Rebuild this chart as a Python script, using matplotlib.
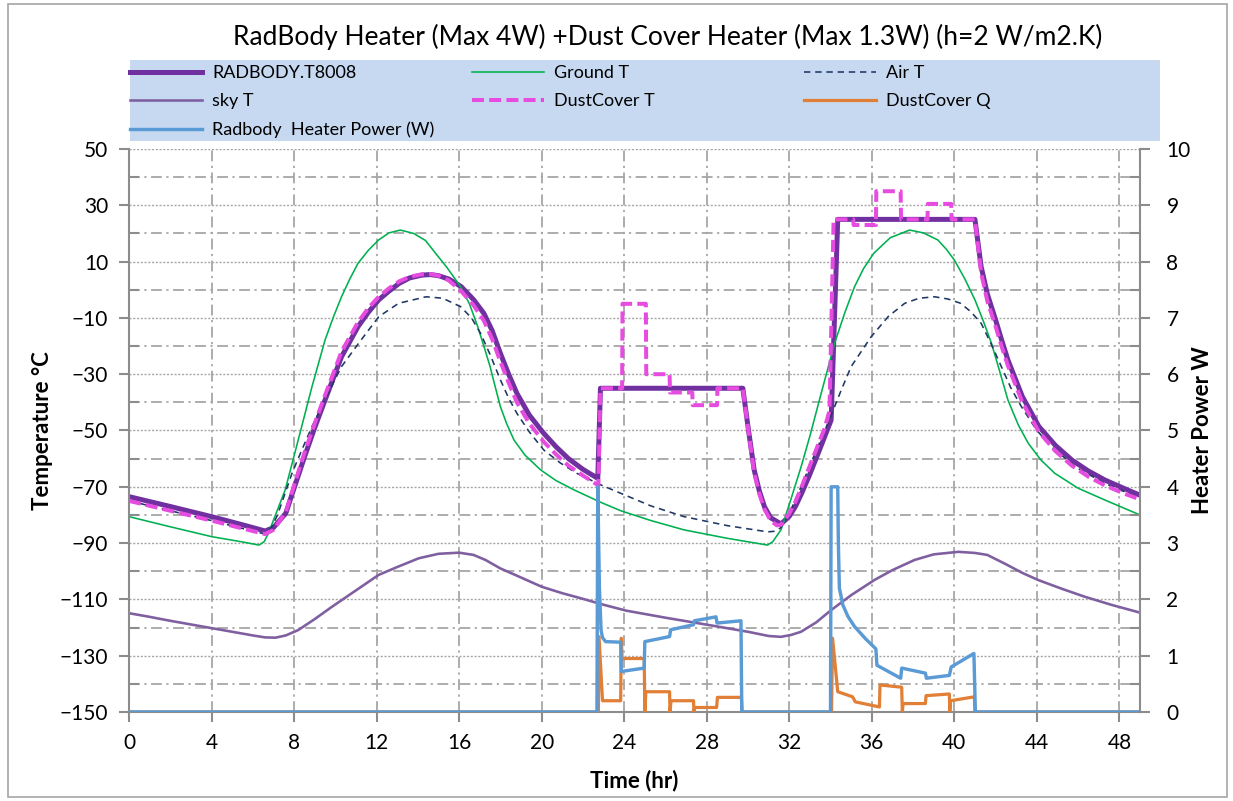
import matplotlib
matplotlib.use("Agg")
import matplotlib.pyplot as plt
from matplotlib.patches import Rectangle
import numpy as np

plt.rcParams['font.family'] = ['Lato', 'DejaVu Sans']

# ---- data ----
t_radbody = [0, 2, 4, 5.5, 6.6, 7.0, 7.6, 8.0, 8.5, 9.0, 9.5, 10.3, 11.1, 11.6, 12.1, 12.6, 13.1,
             13.6, 14.2, 14.6, 15.0, 15.5, 16.1, 16.7, 17.2, 17.6, 18.0, 18.4, 18.8, 19.4, 20.1,
             20.7, 21.3, 22.0, 22.72, 22.85, 29.75, 30.0, 30.3, 30.55, 30.8, 31.1, 31.6, 32.0,
             32.3, 32.6, 33.0, 33.4, 33.7, 34.03, 34.35, 41.0, 41.3, 41.6, 42.0, 42.3, 42.6,
             43.3, 44.1, 44.9, 45.7, 46.5, 47.3, 48.2, 49]
T_radbody = [-73.5, -77, -80.6, -83.5, -85.7, -84.5, -79.4, -70.5, -59.5, -49, -39.2, -23.8,
             -13.1, -8, -3.6, -0.5, 2.3, 4.2, 5.2, 5.4, 5.0, 3.8, 1.1, -3.5, -8.4, -14.5, -22.6,
             -30, -36.8, -44.5, -51, -55.8, -60, -63.8, -67, -35, -35, -48.6, -64, -71.5, -77.1,
             -81, -83.2, -80.5, -77, -72.3, -65.5, -58.1, -52.5, -46.3, 25, 25, 8.2, -1.5,
             -10.7, -18, -25, -38, -48.6, -55.3, -60.5, -64.4, -67.6, -70.5, -73]

t_dust = [0, 2, 4, 5.5, 6.6, 7.0, 7.6, 8.0, 8.5, 9.0, 9.5, 10.3, 11.1, 11.6, 12.1, 12.6, 13.1,
          13.6, 14.2, 14.6, 15.0, 15.5, 16.1, 16.7, 17.2, 17.6, 18.0, 18.4, 18.8, 19.4, 20.1,
          20.7, 21.3, 22.0, 22.75, 22.85, 23.9, 23.92, 25.05, 25.07, 26.2, 26.22, 27.3, 27.32,
          28.5, 28.52, 29.75, 30.0, 30.3, 30.55, 30.8, 31.1, 31.4, 31.6, 32.0, 32.3, 32.6,
          33.0, 33.4, 33.7, 33.95, 34.15, 35.1, 35.12, 36.2, 36.22, 37.4, 37.42, 38.7, 38.72,
          39.85, 39.87, 41.0, 41.3, 41.6, 42.0, 42.3, 42.6, 43.3, 44.1, 44.9, 45.7, 46.5, 47.3,
          48.2, 49]
T_dust = [-75, -78.5, -82, -84.8, -86.8, -85.3, -79, -69.5, -58, -47.5, -37.5, -22, -11.5,
          -6.5, -2.5, 0.5, 3, 4.6, 5.5, 5.6, 5.0, 3.3, -0.5, -5.5, -11, -17.5, -25.5, -33, -40,
          -47.5, -54, -58.5, -62.5, -66, -69.5, -35, -35, -5, -5, -30, -30, -36.5, -36.5, -41,
          -41, -35, -35, -49, -65, -72.5, -78, -82, -83.7, -83.5, -79.5, -75.3, -70, -62.5,
          -55, -49.5, -43, 25, 25, 23, 23, 35, 35, 25, 25, 30.5, 30.5, 25, 25, 6, -4, -13,
          -20.3, -27, -40, -50.5, -57.3, -62.5, -66.4, -69.5, -72.3, -74.5]

t_ground = [0, 2, 4, 5.5, 6.3, 6.55, 6.76, 7.1, 7.57, 8.2, 8.87, 9.5, 9.9, 10.3, 10.7, 11.1,
            11.6, 12.1, 12.6, 13.15, 13.8, 14.37, 14.8, 15.4, 16.07, 16.5, 16.9, 17.2, 17.5,
            17.75, 18.0, 18.3, 18.66, 19.2, 19.95, 20.7, 21.57, 22.86, 23.83, 25.3, 26.9, 29.0,
            30.95, 31.2, 31.6, 32.1, 32.57, 33.0, 33.54, 34.2, 34.7, 35.16, 35.6, 36.1, 36.9,
            37.83, 38.5, 39.2, 39.6, 40.0, 40.5, 41.0, 41.4, 41.8, 42.2, 42.6, 43.1, 43.58,
            44.2, 44.87, 46.0, 47.3, 49]
T_ground = [-80.6, -84.2, -87.7, -89.6, -90.7, -89.5, -86.5, -80, -71.1, -53.4, -34.4, -17.9,
            -9.8, -2.5, 3.8, 9.4, 14, 17.7, 20.2, 21.2, 20, 17.5, 13.5, 8, 1.1, -5, -13.1, -20,
            -27.3, -34.5, -41.5, -47.5, -53.4, -58.8, -64, -67.8, -71.1, -75.5, -78.5, -82,
            -85.3, -88.3, -90.7, -89.5, -85.3, -74, -63, -52, -37, -19, -8, 1, 7.5, 13, 18.5,
            21.2, 20.2, 17.7, 14.5, 10.6, 4, -3.6, -11, -19, -29, -39.2, -48, -54.5, -60.5,
            -65.2, -70.5, -74.7, -80]

t_air = [0, 2, 4, 5.5, 6.6, 6.9, 7.2, 7.9, 8.4, 8.87, 9.6, 10.3, 11.13, 12.1, 13.07, 14.4,
         15.2, 16.07, 16.6, 17.04, 17.5, 18.0, 18.4, 18.8, 19.4, 20.1, 20.9, 21.7, 22.86, 23.83,
         25.3, 26.9, 29.0, 30.95, 31.3, 31.6, 32.0, 32.57, 33.2, 33.87, 34.5, 35.0, 35.97, 36.8,
         37.6, 38.3, 39.05, 39.7, 40.3, 40.8, 41.3, 41.8, 42.28, 42.75, 43.25, 44.0, 44.87,
         46.0, 47.3, 49]
T_air = [-75, -78.5, -82, -84.8, -86.8, -84.5, -80, -65.2, -56.5, -48.6, -37.5, -27.3, -19,
         -9.6, -4.8, -2.5, -3, -6, -10, -15.5, -23, -32, -38.5, -43.9, -50.5, -56.9, -61.5,
         -65.2, -69.3, -72.3, -76.8, -80.6, -83.8, -86, -85.8, -84.5, -79.5, -70, -59, -47.5,
         -36, -27.3, -16.7, -9.5, -4.8, -3, -2.5, -3.3, -4.8, -7.8, -11.9, -19.5, -27.3, -35,
         -41.5, -50, -56.9, -63.5, -68.8, -74.1]

t_sky = [0, 1, 2, 3, 4, 5, 6, 6.6, 7.1, 7.6, 8.2, 9.0, 9.84, 11.0, 12.1, 13.0, 14.04, 15.0, 16.0,
         16.7, 17.28, 18.0, 18.9, 20.0, 21.0, 21.9, 23.0, 24.1, 26.0, 28.1, 30.0, 31.0, 31.6,
         32.1, 32.57, 33.3, 34.03, 35.0, 36.13, 37.0, 38.07, 39.0, 40.2, 41.0, 41.6, 42.5,
         43.3, 44.06, 45.2, 46.3, 47.6, 49]
T_sky = [-114.9, -116.2, -117.6, -118.9, -120.2, -121.5, -122.8, -123.5, -123.6, -122.8, -120.9,
         -117, -112.6, -106.8, -101.3, -98.5, -95.4, -93.8, -93.4, -94.2, -96, -99, -101.9,
         -105.5, -107.8, -109.6, -111.9, -114, -116.5, -119.1, -121.5, -123, -123.3, -122.6,
         -121.5, -118.2, -113.8, -108.5, -103.1, -99.6, -96, -94, -93.1, -93.5, -94.2, -97.5,
         -100.6, -103.1, -106.2, -109, -111.9, -114.7]

t_dq = [0, 22.75, 22.78, 22.95, 23.83, 23.86, 23.9, 24.97, 25.0, 25.05, 26.2, 26.22, 26.27,
        27.36, 27.38, 27.42, 28.48, 28.52, 29.68, 29.72, 34.05, 34.1, 34.35, 35.07, 35.2,
        36.37, 36.4, 37.45, 37.48, 37.52, 38.6, 38.63, 39.76, 39.78, 39.82, 40.97, 41.0, 49]
Q_dust = [0, 0, 1.34, 0.2, 0.2, 1.31, 0.95, 0.95, 0, 0.36, 0.36, 0, 0.2, 0.2, 0, 0.08, 0.08,
          0.26, 0.26, 0, 0, 1.31, 0.36, 0.27, 0.18, 0.09, 0.48, 0.44, 0, 0.15, 0.15, 0.29, 0.32,
          0, 0.2, 0.27, 0, 0]

t_heat = [0, 22.68, 22.72, 22.8, 22.88, 22.95, 23.1, 23.83, 23.86, 24.97, 25.0, 26.2, 26.25,
          27.36, 27.4, 28.45, 28.5, 29.66, 29.7, 34.0, 34.03, 34.35, 34.38, 34.43, 34.6, 34.84,
          35.16, 35.7, 36.2, 36.25, 37.4, 37.45, 38.6, 38.65, 39.76, 39.85, 40.95, 41.02, 49]
P_heat = [0, 0, 4.0, 2.2, 1.45, 1.32, 1.25, 1.24, 0.72, 0.78, 1.25, 1.34, 1.46, 1.55, 1.62, 1.69,
          1.58, 1.62, 0, 0, 4.0, 4.0, 3.0, 2.2, 1.9, 1.7, 1.52, 1.3, 1.12, 0.83, 0.6, 0.78, 0.69,
          0.6, 0.65, 0.8, 1.04, 0, 0]

# ---- figure ----
W, H = 1233, 801
fig = plt.figure(figsize=(W / 100, H / 100), dpi=100)
ax = fig.add_axes([129 / W, 1 - 712 / H, (1140 - 129) / W, (712 - 149) / H])
ax2 = ax.twinx()

gridc = '#A6A6A6'
axc = '#8C8C8C'

ax.set_xlim(0, 49)
ax.set_ylim(-150, 50)
ax2.set_ylim(0, 10)

ax.set_xticks(np.arange(0, 49, 4))
ax.set_yticks(np.arange(-150, 51, 20))
ax.set_yticks(np.arange(-140, 50, 20), minor=True)
ax2.set_yticks(np.arange(0, 11, 1))
ax2.set_yticks(np.arange(0.5, 10, 1), minor=True)

ax.grid(axis='x', which='major', color=gridc, lw=1.3, linestyle=(0, (6, 2.5, 1.2, 2.5)))
ax.grid(axis='y', which='major', color=gridc, lw=1.0, linestyle=(0, (1.5, 1.2)))
ax.grid(axis='y', which='minor', color=gridc, lw=1.3, linestyle=(0, (6, 2.5, 1.2, 2.5)))
ax.set_axisbelow(True)

lw_px = 0.72
l_rad, = ax.plot(t_radbody, T_radbody, color='#7030A0', lw=5 * lw_px, label='RADBODY.T8008',
                 solid_joinstyle='round')
l_gnd, = ax.plot(t_ground, T_ground, color='#00B050', lw=1.6 * lw_px, label='Ground T')
l_air, = ax.plot(t_air, T_air, color='#1F3864', lw=1.6 * lw_px, linestyle=(0, (4, 3)),
                 label='Air T')
l_sky, = ax.plot(t_sky, T_sky, color='#7F5FA0', lw=2.6 * lw_px, label='sky T')
l_dc, = ax.plot(t_dust, T_dust, color='#E64CDF', lw=4 * lw_px, linestyle=(0, (3, 1.3)),
                label='DustCover T')
l_dq, = ax2.plot(t_dq, Q_dust, color='#E07F35', lw=3.2 * lw_px, label='DustCover Q')
l_hp, = ax2.plot(t_heat, P_heat, color='#5B9BD5', lw=3.4 * lw_px,
                 label='Radbody  Heater Power (W)')

for a in (ax, ax2):
    for s in a.spines.values():
        s.set_visible(False)
ax.spines['left'].set_visible(True)
ax.spines['bottom'].set_visible(True)
ax2.spines['right'].set_visible(True)
for s in (ax.spines['left'], ax.spines['bottom'], ax2.spines['right']):
    s.set_color(axc)
    s.set_linewidth(1.5)

ax.tick_params(axis='both', which='major', labelsize=15, color=axc, width=1.5, length=7,
               direction='out', pad=8)
ax.tick_params(axis='y', which='minor', color=axc, width=1.5, length=7, direction='in')
ax2.tick_params(axis='y', which='major', labelsize=15, color=axc, width=1.5, length=7,
                direction='out', pad=12)
ax2.tick_params(axis='y', which='minor', color=axc, width=1.5, length=7, direction='in')

ax.set_ylabel('Temperature °C', fontsize=16, fontweight='bold', labelpad=5)
ax2.set_ylabel('Heater Power W', fontsize=16, fontweight='bold', labelpad=1)
ax.set_xlabel('Time (hr)', fontsize=16, fontweight='bold', labelpad=12)

fig.text(668 / W, 1 - 37 / H, 'RadBody Heater (Max 4W) +Dust Cover Heater (Max 1.3W) (h=2 W/m2.K)',
         ha='center', va='center', fontsize=19)

# legend: light-blue band with three columns
fig.patches.append(Rectangle((130 / W, 1 - 141 / H), (1160 - 130) / W, (141 - 60) / H,
                             transform=fig.transFigure, facecolor='#C6D9F1',
                             edgecolor='none', zorder=0))
columns = [[l_rad, l_sky, l_hp], [l_gnd, l_dc], [l_air, l_dq]]
col_x = [130, 472, 804]
for hs, cx in zip(columns, col_x):
    lg = fig.legend(handles=hs, labels=[h.get_label() for h in hs], loc='upper left',
                    bbox_to_anchor=(cx / W, 1 - 65 / H), fontsize=13, frameon=False,
                    handlelength=4.0, handletextpad=0.55, borderaxespad=0, borderpad=0,
                    labelspacing=0.68)

fig.patches.append(Rectangle((8 / W, 4 / H), (W - 14) / W, (H - 8) / H, transform=fig.transFigure,
                             fill=False, edgecolor='#A6A6A6', lw=1.2))

fig.savefig('out.png', dpi=100)
